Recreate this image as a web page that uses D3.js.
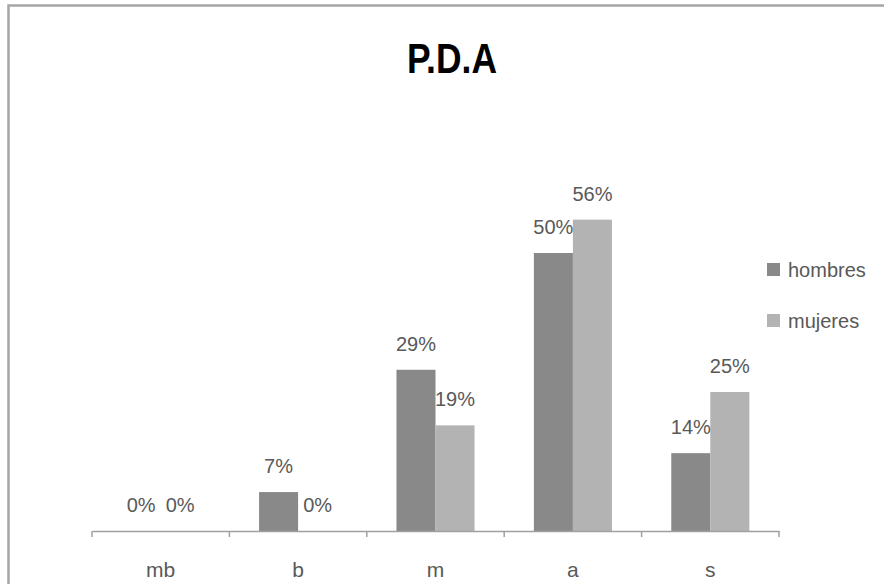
<!DOCTYPE html>
<html>
<head>
<meta charset="utf-8">
<script src="https://cdn.jsdelivr.net/npm/d3@7"></script>
<style>
  html, body { margin: 0; padding: 0; background: #fff; }
  svg { display: block; }
  text { font-family: "Liberation Sans", Arial, sans-serif; }
</style>
</head>
<body>
<svg id="chart" width="884" height="584"></svg>
<script>
const title = "P.D.A";
const categories = ["mb", "b", "m", "a", "s"];
const seriesNames = ["hombres", "mujeres"];
const hombres = [0, 7, 29, 50, 14];
const mujeres = [0, 0, 19, 56, 25];
const seriesColors = ["#898989", "#b3b3b3"];
const yMax = 60;

const svg = d3.select("#chart");
const W = 884, H = 584;

// outer frame
svg.append("rect")
  .attr("x", 8.5).attr("y", 5.5)
  .attr("width", W + 20).attr("height", H + 20)
  .attr("fill", "#fff").attr("stroke", "#a6a6a6").attr("stroke-width", 2.5);

const plot = { left: 92, right: 779, top: 197.4, bottom: 531 };

const x0 = d3.scaleBand().domain(categories).range([plot.left, plot.right]).padding(0);
const x1 = d3.scaleBand().domain(seriesNames).range([0, x0.bandwidth()])
  .paddingInner(0).paddingOuter(0.76);
const y = d3.scaleLinear().domain([0, yMax]).range([plot.bottom, plot.top]);
const color = d3.scaleOrdinal().domain(seriesNames).range(seriesColors);

const rows = categories.map((c, i) => ({ cat: c, values: [
  { key: "hombres", v: hombres[i] },
  { key: "mujeres", v: mujeres[i] }
]}));

// title
svg.append("text")
  .attr("x", 452).attr("y", 73)
  .attr("text-anchor", "middle")
  .attr("font-size", 42).attr("font-weight", "bold")
  .attr("textLength", 90).attr("lengthAdjust", "spacingAndGlyphs")
  .attr("fill", "#000")
  .text(title);

// bars
const g = svg.append("g");
const groups = g.selectAll("g.cat").data(rows).join("g")
  .attr("class", "cat")
  .attr("transform", d => `translate(${x0(d.cat)},0)`);

groups.selectAll("rect").data(d => d.values).join("rect")
  .attr("x", d => x1(d.key))
  .attr("width", x1.bandwidth())
  .attr("y", d => y(d.v))
  .attr("height", d => y(0) - y(d.v))
  .attr("fill", d => color(d.key));

groups.selectAll("text").data(d => d.values).join("text")
  .attr("x", d => x1(d.key) + x1.bandwidth() / 2)
  .attr("y", d => y(d.v) - 19)
  .attr("text-anchor", "middle")
  .attr("font-size", 20)
  .attr("fill", "#595959")
  .text(d => d.v + "%");

// x axis
const xAxis = d3.axisBottom(x0).tickSize(0).tickPadding(0);
const ax = svg.append("g").attr("transform", `translate(0,${plot.bottom})`).call(xAxis);
ax.select(".domain").attr("stroke", "#a0a0a0").attr("stroke-width", 1.5);
ax.selectAll(".tick text")
  .attr("y", 46)
  .attr("dy", 0)
  .attr("font-size", 21)
  .attr("font-family", "Liberation Sans, Arial, sans-serif")
  .attr("fill", "#595959");
// boundary tick marks
const bounds = categories.map(c => x0(c)).concat([x0(categories[categories.length - 1]) + x0.bandwidth()]);
ax.selectAll("line.bound").data(bounds).join("line")
  .attr("class", "bound")
  .attr("x1", d => d).attr("x2", d => d)
  .attr("y1", 0).attr("y2", 6)
  .attr("stroke", "#a0a0a0").attr("stroke-width", 1.5);

// legend
const legend = svg.append("g");
const legY = [263, 314];
seriesNames.forEach((s, i) => {
  legend.append("rect")
    .attr("x", 767).attr("y", legY[i])
    .attr("width", 13).attr("height", 13)
    .attr("fill", seriesColors[i]);
  legend.append("text")
    .attr("x", 788).attr("y", legY[i] + 14)
    .attr("font-size", 20)
    .attr("fill", "#595959")
    .text(s);
});
</script>
</body>
</html>
